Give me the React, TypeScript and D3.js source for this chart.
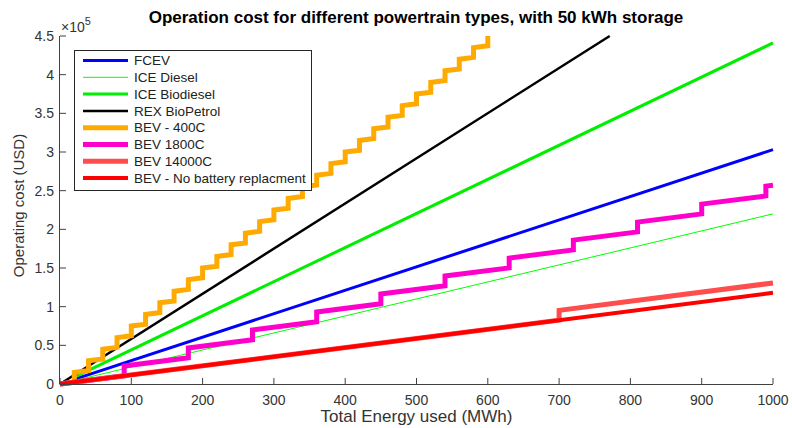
import React from "react";
import * as d3 from "d3";

// Operating cost (USD) versus total energy used (MWh), per powertrain
const fcev: [number, number][] = [[20, 6060], [1000, 303000]];
const iceDiesel: [number, number][] = [[20, 4400], [1000, 220000]];
const iceBiodiesel: [number, number][] = [[20, 8820], [1000, 441000]];
const rexBioPetrol: [number, number][] = [[5, 2920], [771, 450000]];

// Battery replaced every 20 MWh (400 cycles x 50 kWh)
const bev400C: [number, number][] = [
  [0, 0], [20, 2360], [20, 15000], [40, 17360], [40, 30000], [60, 32360],
  [60, 45000], [80, 47360], [80, 60000], [100, 62360], [100, 75000], [120, 77360],
  [120, 90000], [140, 92360], [140, 105000], [160, 107360], [160, 120000], [180, 122360],
  [180, 135000], [200, 137360], [200, 150000], [220, 152360], [220, 165000], [240, 167360],
  [240, 180000], [260, 182360], [260, 195000], [280, 197360], [280, 210000], [300, 212360],
  [300, 225000], [320, 227360], [320, 240000], [340, 242360], [340, 255000], [360, 257360],
  [360, 270000], [380, 272360], [380, 285000], [400, 287360], [400, 300000], [420, 302360],
  [420, 315000], [440, 317360], [440, 330000], [460, 332360], [460, 345000], [480, 347360],
  [480, 360000], [500, 362360], [500, 375000], [520, 377360], [520, 390000], [540, 392360],
  [540, 405000], [560, 407360], [560, 420000], [580, 422360], [580, 435000], [600, 437360],
  [600, 450000],
];

// Battery replaced every 90 MWh (1800 cycles x 50 kWh)
const bev1800C: [number, number][] = [
  [0, 0], [90, 10620], [90, 23260], [180, 33880], [180, 46520], [270, 57140],
  [270, 69780], [360, 80400], [360, 93040], [450, 103660], [450, 116300], [540, 126920],
  [540, 139560], [630, 150180], [630, 162820], [720, 173440], [720, 186080], [810, 196700],
  [810, 209340], [900, 219960], [900, 232600], [990, 243220], [990, 255860], [1000, 257040],
];

// Battery replaced every 700 MWh (14000 cycles x 50 kWh)
const bev14000C: [number, number][] = [[0, 0], [700, 82600], [700, 95240], [1000, 130640]];
const bevNoReplacement: [number, number][] = [[0, 0], [1000, 118000]];

const seriesNames = [
  "FCEV",
  "ICE Diesel",
  "ICE Biodiesel",
  "REX BioPetrol",
  "BEV - 400C",
  "BEV 1800C",
  "BEV 14000C",
  "BEV - No battery replacment",
];
const seriesData = [fcev, iceDiesel, iceBiodiesel, rexBioPetrol, bev400C, bev1800C, bev14000C, bevNoReplacement];
const seriesColors = ["#0000ff", "#00ff00", "#00ee00", "#000000", "#ffaa00", "#ff00cc", "#ff4d4d", "#ff0000"];
const seriesWidths = [3, 1, 3, 2.5, 5, 5, 5, 4];

const xTicks = [0, 100, 200, 300, 400, 500, 600, 700, 800, 900, 1000];
const yTicks = [0, 50000, 100000, 150000, 200000, 250000, 300000, 350000, 400000, 450000];

const W = 792;
const H = 428;
const left = 60;
const right = 773;
const top = 36;
const bottom = 384;
const font = "'Liberation Sans', Arial, Helvetica, sans-serif";
const axisColor = "#404040";

export default function App() {
  const x = d3.scaleLinear().domain([0, 1000]).range([left, right]);
  const y = d3.scaleLinear().domain([0, 450000]).range([bottom, top]);
  const line = d3
    .line<[number, number]>()
    .x((d) => x(d[0]))
    .y((d) => y(d[1]));

  const legX = 74.5;
  const legY = 50.5;
  const legW = 237;
  const legH = 140;
  const rowH = 16.8;

  return (
    <svg
      width={W}
      height={H}
      style={{ position: "absolute", left: 0, top: 0, background: "#fff" }}
      fontFamily={font}
    >
      <rect x={0} y={0} width={W} height={H} fill="#fff" />

      {/* series */}
      {seriesData.map((d, i) => (
        <path
          key={seriesNames[i]}
          d={line(d) ?? ""}
          fill="none"
          stroke={seriesColors[i]}
          strokeWidth={seriesWidths[i]}
          strokeLinejoin="miter"
        />
      ))}

      {/* axes */}
      <line x1={left} x2={right} y1={bottom + 0.5} y2={bottom + 0.5} stroke={axisColor} strokeWidth={1} />
      <line x1={left - 0.5} x2={left - 0.5} y1={top} y2={bottom + 0.5} stroke={axisColor} strokeWidth={1} />
      {xTicks.map((t) => (
        <g key={"x" + t}>
          <line x1={x(t)} x2={x(t)} y1={bottom} y2={bottom - 6} stroke={axisColor} strokeWidth={1} />
          <text x={x(t)} y={bottom + 21} textAnchor="middle" fontSize={14} fill="#333">
            {t}
          </text>
        </g>
      ))}
      {yTicks.map((t) => (
        <g key={"y" + t}>
          <line x1={left} x2={left + 6} y1={y(t)} y2={y(t)} stroke={axisColor} strokeWidth={1} />
          <text x={left - 6} y={y(t) + 5} textAnchor="end" fontSize={14} fill="#333">
            {t / 100000}
          </text>
        </g>
      ))}
      <text x={left + 1} y={32} fontSize={14} fill="#333">
        ×10
        <tspan dy={-7} fontSize={11}>
          5
        </tspan>
      </text>

      {/* labels */}
      <text x={416} y={23} textAnchor="middle" fontSize={17} fontWeight="bold" fill="#000">
        Operation cost for different powertrain types, with 50 kWh storage
      </text>
      <text x={(left + right) / 2} y={422} textAnchor="middle" fontSize={17} fill="#333">
        Total Energy used (MWh)
      </text>
      <text
        transform={`translate(24, 205.5) rotate(-90)`}
        textAnchor="middle"
        fontSize={15}
        fill="#333"
      >
        Operating cost (USD)
      </text>

      {/* legend */}
      <rect x={legX} y={legY} width={legW} height={legH} fill="#fff" stroke="#262626" strokeWidth={1} />
      {seriesNames.map((name, i) => {
        const cy = legY + 10 + i * rowH;
        return (
          <g key={"leg" + name}>
            <line x1={83} x2={128} y1={cy} y2={cy} stroke={seriesColors[i]} strokeWidth={Math.min(seriesWidths[i], 5)} />
            <text x={134} y={cy + 4.6} fontSize={13.5} fill="#222">
              {name}
            </text>
          </g>
        );
      })}
    </svg>
  );
}
